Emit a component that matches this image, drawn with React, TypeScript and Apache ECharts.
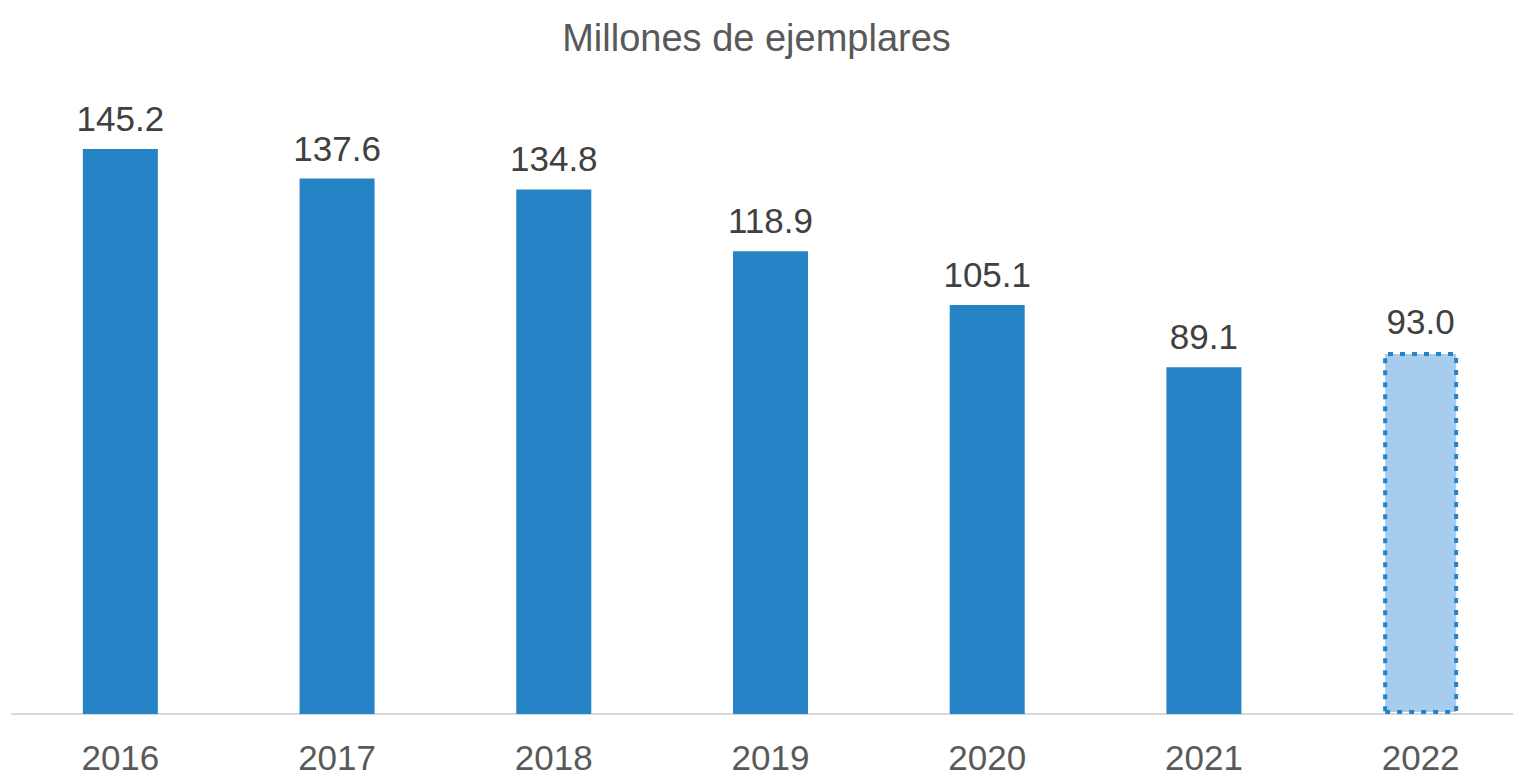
import React, { useEffect, useRef } from "react";
import * as echarts from "echarts";

const categories = ["2016", "2017", "2018", "2019", "2020", "2021", "2022"];
const values = [145.2, 137.6, 134.8, 118.9, 105.1, 89.1, 93.0];
const estimatedIndex = 6;
const titleText = "Millones de ejemplares";

const FONT = "'Liberation Sans Narrow', 'Arial Narrow', 'Liberation Sans', Arial, sans-serif";

export default function App() {
  const ref = useRef<HTMLDivElement>(null);
  useEffect(() => {
    if (!ref.current) return;
    const chart = echarts.init(ref.current, undefined, { renderer: "svg" });
    const data = values.map((v, i) =>
      i === estimatedIndex
        ? {
            value: v,
            itemStyle: {
              color: "#a6cdee",
              borderColor: "#2683c6",
              borderWidth: 4,
              borderType: [5, 7] as any,
            },
          }
        : { value: v }
    );
    chart.setOption({
      animation: false,
      backgroundColor: "#ffffff",
      title: {
        text: titleText,
        left: "center",
        top: 14,
        textStyle: { fontFamily: FONT, fontSize: 38, fontWeight: "normal", color: "#595959" },
      },
      grid: {
        left: 12,
        right: -16,
        top: 130.3,
        bottom: 62,
        containLabel: false,
        outerBoundsMode: "none",
      } as any,
      xAxis: {
        type: "category",
        data: categories,
        axisLine: { show: true, lineStyle: { color: "#d9d9d9", width: 2 } },
        axisTick: { show: false },
        axisLabel: { fontFamily: FONT, fontSize: 35, color: "#595959", margin: 26 },
      },
      yAxis: {
        type: "value",
        min: 0,
        max: 150,
        show: false,
        splitLine: { show: false },
      },
      series: [
        {
          type: "bar",
          data,
          barWidth: 75,
          itemStyle: { color: "#2683c6" },
          label: {
            show: true,
            position: "top",
            distance: 13,
            formatter: (p: any) => Number(p.value).toFixed(1),
            fontFamily: FONT,
            fontSize: 35,
            color: "#404040",
          },
        },
      ],
    });
    return () => chart.dispose();
  }, []);
  return (
    <div
      ref={ref}
      style={{ position: "fixed", left: 0, top: 0, width: 1513, height: 776 }}
    />
  );
}
